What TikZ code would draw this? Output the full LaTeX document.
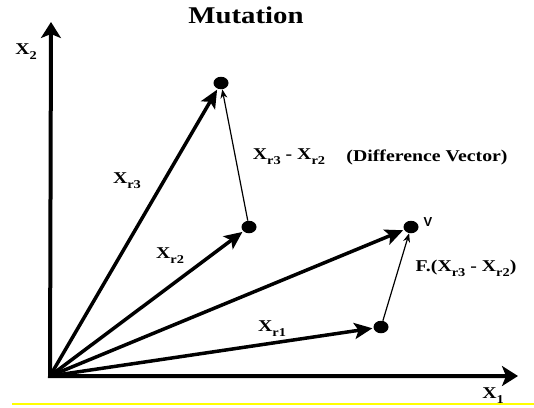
\documentclass[tikz,border=0pt]{standalone}
\usepackage{fontspec}
\setmainfont{Liberation Serif}[FakeStretch=1.2]
\setsansfont{Liberation Sans}
\usepackage{tikz}
\usetikzlibrary{positioning,arrows.meta,shapes.geometric}
\definecolor{ink}{HTML}{000000}
\definecolor{hilite}{HTML}{FFFF00}
\newcommand{\xv}[1]{X\raisebox{-0.3em}{\fontsize{12}{12}\selectfont #1}}

\begin{document}
\begin{tikzpicture}[x=1pt,y=-1pt,font=\bfseries\fontsize{16.5}{18}\selectfont,
  dot/.style={ellipse,fill=ink,inner sep=0pt,minimum width=15pt,minimum height=12.5pt},
  axis/.style={{Stealth[length=16pt,width=20pt,inset=4pt]}-{Stealth[length=16pt,width=20pt,inset=4pt]},line width=4pt,draw=ink},
  vec/.style={-{Stealth[length=18pt,width=16pt,inset=4pt]},line width=3.5pt,draw=ink,shorten >=1pt},
  diff/.style={-{Stealth[length=9pt,width=7pt]},line width=1.2pt,draw=ink}]
  \useasboundingbox (0,0) rectangle (534,407);
  \coordinate (o) at (50,376);
  \coordinate (ytip) at (51,22);
  \coordinate (xtip) at (518,376);
  \draw[axis] (ytip) -- (o) -- (xtip);
  \node[dot] (r3) at (221,83) {};
  \node[dot] (r2) at (249,227) {};
  \node[dot] (v) at (411,227) {};
  \node[dot] (r1) at (381,327) {};
  \foreach \p in {r3,r2,v,r1} \draw[vec] (o) -- (\p);
  \draw[diff] (r2) -- (r3);
  \draw[diff] (r1) -- (v);
  \node (title) at (246,15) {\fontsize{24}{26}\selectfont Mutation};
  \node (x2) at (26,52) {\xv{2}};
  \node (x1) at (493,396) {\xv{1}};
  \node (lr3) at (127,181) {\xv{r3}};
  \node (lr2) at (170,256) {\xv{r2}};
  \node (lr1) at (272,329) {\xv{r1}};
  \node (ldiff) at (289,157) {\xv{r3} - \xv{r2}};
  \node (lnote) at (427,157) {(Difference Vector)};
  \node[font=\sffamily\bfseries\fontsize{13}{14}\selectfont] (lv) at (428,222) {V};
  \node (lf) at (466,268) {F.(\xv{r3} - \xv{r2})};
  \draw[hilite,line width=2pt] (12,404) -- (534,404);
\end{tikzpicture}
\end{document}
